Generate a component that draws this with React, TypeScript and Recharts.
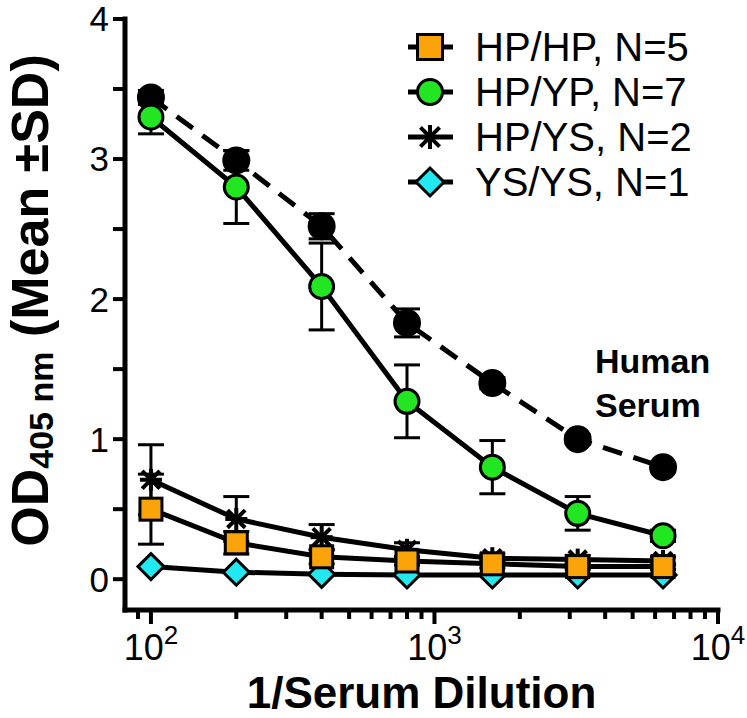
import React from 'react'
import { ComposedChart, Line, XAxis, YAxis, ErrorBar, Legend, Customized } from 'recharts'

const FONT = '"Liberation Sans", Arial, sans-serif'
const ORANGE = '#FBA40A'
const GREEN = '#22E622'
const CYAN = '#22E8F2'

// 1/serum dilution
const dilutions = [100, 200, 400, 800, 1600, 3200, 6400]

// human serum control (dashed, black)
const humanSerum = [3.44, 2.99, 2.52, 1.83, 1.4, 1.0, 0.8]
const humanSerumSd = [0.05, 0.07, 0.09, 0.1, 0.04, 0.03, 0.02]

const hpHp = [0.5, 0.26, 0.16, 0.13, 0.11, 0.09, 0.09]
const hpHpSd = [0.25, 0.08, 0.05, 0.03, 0.03, 0.02, 0.02]

const hpYp = [3.3, 2.8, 2.09, 1.27, 0.8, 0.47, 0.31]
const hpYpSd = [0.12, 0.26, 0.31, 0.26, 0.19, 0.12, 0.04]

const hpYs = [0.71, 0.43, 0.3, 0.21, 0.15, 0.14, 0.13]
const hpYsSd = [0.25, 0.16, 0.09, 0.05, 0.03, 0.03, 0.03]

const ysYs = [0.09, 0.05, 0.035, 0.03, 0.03, 0.03, 0.03]

const xTicks = [90, 100, 200, 300, 400, 500, 600, 700, 800, 900, 1000, 2000, 3000, 4000, 5000, 6000, 7000, 8000, 9000, 10000]
const xMajor = [100, 1000, 10000]
const yTicks = [0, 0.5, 1, 1.5, 2, 2.5, 3, 3.5, 4]

const legendItems = [
  { label: 'HP/HP, N=5', shape: 'square' },
  { label: 'HP/YP, N=7', shape: 'circle' },
  { label: 'HP/YS, N=2', shape: 'star' },
  { label: 'YS/YS, N=1', shape: 'diamond' },
]

const data = dilutions.map((x, i) => ({
  x,
  hs: humanSerum[i],
  hsSd: humanSerumSd[i],
  hpHp: hpHp[i],
  hpHpSd: hpHpSd[i],
  hpYp: hpYp[i],
  hpYpSd: hpYpSd[i],
  hpYs: hpYs[i],
  hpYsSd: hpYsSd[i],
  ysYs: ysYs[i],
}))

function Circle({ cx, cy, fill, r = 12 }: any) {
  return <circle cx={cx} cy={cy} r={r} fill={fill} stroke="#000" strokeWidth={3} />
}

function Square({ cx, cy, s = 22 }: any) {
  return <rect x={cx - s / 2} y={cy - s / 2} width={s} height={s} fill={ORANGE} stroke="#000" strokeWidth={3} />
}

function Diamond({ cx, cy, s = 13 }: any) {
  return (
    <polygon
      points={`${cx},${cy - s} ${cx + s},${cy} ${cx},${cy + s} ${cx - s},${cy}`}
      fill={CYAN}
      stroke="#000"
      strokeWidth={3}
      strokeLinejoin="miter"
    />
  )
}

function Star({ cx, cy, s = 11 }: any) {
  const d = s * 0.8
  return (
    <g stroke="#000" strokeWidth={4}>
      <line x1={cx} y1={cy - s} x2={cx} y2={cy + s} />
      <line x1={cx - d} y1={cy - d} x2={cx + d} y2={cy + d} />
      <line x1={cx - d} y1={cy + d} x2={cx + d} y2={cy - d} />
      <line x1={cx - s} y1={cy} x2={cx + s} y2={cy} />
    </g>
  )
}

function Marker({ shape, cx, cy, big }: any) {
  if (shape === 'square') return <Square cx={cx} cy={cy} s={big ? 25 : 22} />
  if (shape === 'circle') return <Circle cx={cx} cy={cy} fill={GREEN} r={big ? 12.5 : 12} />
  if (shape === 'star') return <Star cx={cx} cy={cy} s={big ? 12 : 11} />
  return <Diamond cx={cx} cy={cy} s={big ? 14 : 13} />
}

function XTick({ x, y, payload }: any) {
  const v = payload.value
  const major = xMajor.includes(v)
  const exp = Math.round(Math.log10(v))
  return (
    <g>
      <line x1={x} x2={x} y1={y} y2={y + (major ? 14 : 9)} stroke="#000" strokeWidth={4} />
      {major && (
        <text x={x} y={y + 50} textAnchor="middle" fontSize={36} fontFamily={FONT} fill="#000">
          10
          <tspan dy={-16} fontSize={26}>{exp}</tspan>
        </text>
      )}
    </g>
  )
}

function YLabel({ viewBox }: any) {
  const cx = 30
  const cy = viewBox.y + viewBox.height / 2 - 14
  return (
    <text
      x={cx}
      y={cy}
      transform={`rotate(-90 ${cx} ${cy})`}
      textAnchor="middle"
      dominantBaseline="central"
      fontFamily={FONT}
      fontWeight="bold"
      fontSize={52}
      fill="#000"
    >
      OD
      <tspan dy={11} fontSize={34}>405 nm</tspan>
      <tspan dy={-11}> (Mean ±SD)</tspan>
    </text>
  )
}

function LegendContent() {
  return (
    <svg width={340} height={200} style={{ display: 'block', overflow: 'visible' }}>
      {legendItems.map((item, i) => {
        const cy = 27 + i * 45
        return (
          <g key={item.label}>
            <line x1={8} x2={53} y1={cy} y2={cy} stroke="#000" strokeWidth={5} />
            <Marker shape={item.shape} cx={30} cy={cy} big />
            <text x={75} y={cy + 14} fontSize={40} fontFamily={FONT} fill="#000">
              {item.label}
            </text>
          </g>
        )
      })}
    </svg>
  )
}

function HumanSerumNote() {
  return (
    <text fontFamily={FONT} fontWeight="bold" fontSize={34} fill="#000">
      <tspan x={595} y={373}>Human</tspan>
      <tspan x={595} y={417}>Serum</tspan>
    </text>
  )
}

export default function App() {
  return (
    <div style={{ position: 'absolute', left: 0, top: 0, background: '#fff' }}>
      <ComposedChart width={747} height={718} data={data} margin={{ top: 19, right: 29, bottom: 0, left: 0 }}>
        <XAxis
          type="number"
          dataKey="x"
          scale="log"
          domain={[81, 10000]}
          allowDataOverflow
          ticks={xTicks}
          interval={0}
          tick={<XTick />}
          tickLine={false}
          tickSize={0}
          tickMargin={0}
          height={108}
          axisLine={{ stroke: '#000', strokeWidth: 5, strokeLinecap: 'square' }}
          label={{
            value: '1/Serum Dilution',
            position: 'insideBottom',
            offset: 10,
            fontSize: 44,
            fontWeight: 'bold',
            fontFamily: FONT,
            fill: '#000',
          }}
        />
        <YAxis
          type="number"
          domain={[-0.22, 4]}
          allowDataOverflow
          ticks={yTicks}
          interval={0}
          width={125}
          tickSize={12}
          tickMargin={4}
          tickFormatter={(v: number) => (Number.isInteger(v) ? String(v) : '')}
          tick={{ fontSize: 35, fontFamily: FONT, fill: '#000' }}
          tickLine={{ stroke: '#000', strokeWidth: 4 }}
          axisLine={{ stroke: '#000', strokeWidth: 5, strokeLinecap: 'square' }}
          label={{ content: (p: any) => <YLabel viewBox={p.viewBox} /> }}
        />
        <Legend
          content={<LegendContent />}
          layout="vertical"
          align="center"
          verticalAlign="middle"
          wrapperStyle={{ left: 400, top: 20, width: 340, height: 200 }}
        />
        <Line
          dataKey="ysYs"
          type="linear"
          stroke="#000"
          strokeWidth={5}
          isAnimationActive={false}
          activeDot={false}
          legendType="none"
          dot={(p: any) => <Diamond key={`d${p.index}`} cx={p.cx} cy={p.cy} />}
        />
        <Line
          dataKey="hpYs"
          type="linear"
          stroke="#000"
          strokeWidth={5}
          isAnimationActive={false}
          activeDot={false}
          legendType="none"
          dot={(p: any) => <Star key={`s${p.index}`} cx={p.cx} cy={p.cy} />}
        >
          <ErrorBar dataKey="hpYsSd" direction="y" width={13} stroke="#000" strokeWidth={3} />
        </Line>
        <Line
          dataKey="hpHp"
          type="linear"
          stroke="#000"
          strokeWidth={5}
          isAnimationActive={false}
          activeDot={false}
          legendType="none"
          dot={(p: any) => <Square key={`q${p.index}`} cx={p.cx} cy={p.cy} />}
        >
          <ErrorBar dataKey="hpHpSd" direction="y" width={13} stroke="#000" strokeWidth={3} />
        </Line>
        <Line
          dataKey="hs"
          type="linear"
          stroke="#000"
          strokeWidth={5}
          strokeDasharray="20 12"
          isAnimationActive={false}
          activeDot={false}
          legendType="none"
          dot={(p: any) => <Circle key={`h${p.index}`} cx={p.cx} cy={p.cy} fill="#000" r={12.5} />}
        >
          <ErrorBar dataKey="hsSd" direction="y" width={13} stroke="#000" strokeWidth={3} />
        </Line>
        <Line
          dataKey="hpYp"
          type="linear"
          stroke="#000"
          strokeWidth={5}
          isAnimationActive={false}
          activeDot={false}
          legendType="none"
          dot={(p: any) => <Circle key={`g${p.index}`} cx={p.cx} cy={p.cy} fill={GREEN} />}
        >
          <ErrorBar dataKey="hpYpSd" direction="y" width={13} stroke="#000" strokeWidth={3} />
        </Line>
        <Customized component={HumanSerumNote} />
      </ComposedChart>
    </div>
  )
}
